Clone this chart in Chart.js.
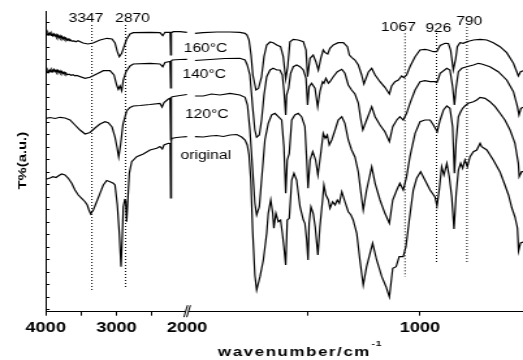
<!DOCTYPE html>
<html>
<head>
<meta charset="utf-8">
<script src="https://cdn.jsdelivr.net/npm/chart.js@4.4.1/dist/chart.umd.min.js"></script>
<style>
  html, body { margin: 0; padding: 0; background: #fff; overflow: hidden; }
  /* the figure is a horizontally stretched export, so the canvas is drawn narrow and widened */
  #wrap { width: 402px; height: 360px; transform: scaleX(1.301); transform-origin: 0 0; }
</style>
</head>
<body>
<div id="wrap"><canvas id="ftir" width="402" height="360"></canvas></div>
<script>
// broken wavenumber axis: 4000-2000 | 2042-539
const BREAK_HI = 2000, BREAK_LO = 2042, WN_MAX = 4000, WN_MIN = 539;
const HI_SCALE = 0.07071, LO_SCALE = 0.22341;
const STRETCH = 1.301;

const tickWn = [4000, 3500, 3000, 2500, 2000, 1500, 1000];
const tickText = ['4000', '', '3000', '', '2000', '', '1000'];
const yTicks = [2.5, 15, 27.5, 40, 52.5, 65, 77.5, 90, 102.5, 115, 127.5, 140, 152.5, 165, 177.5, 190, 202.5, 215, 227.5, 240, 252.5, 265, 277.5, 290];

// 160 °C
const wnHi160 = [3996,3982,3968,3954,3939,3925,3911,3897,3883,3868,3854,3840,3826,3812,3798,3783,3769,3755,3741,3727,3713,3699,3685,3670,3656,3628,3600,3572,3543,3472,3402,3331,3232,3133,3062,3020,2987,2959,2925,2893,2855,2808,2761,2525,2384,2345,2313,2266,2240,2232,2224,2195,2101,2002];
const tHi160 = [278.4,276.8,279.2,277.0,278.6,276.2,278.0,275.9,277.6,275.5,277.2,274.6,276.4,274.0,275.9,273.5,275.2,272.8,274.4,272.3,273.6,271.6,272.8,271.0,272.2,270.6,270.8,270.0,270.9,268.7,267.7,268.7,271.7,273.4,272.7,268.7,260,255,258.4,265,272.4,277.7,279,279.4,279,276,279.4,279.4,279.4,256.7,279,280,280,279.4];
const wnLo160 = [2007,1971,1909,1850,1806,1783,1774,1765,1756,1748,1734,1723,1709,1698,1686,1671,1657,1641,1624,1612,1601,1592,1582,1567,1545,1522,1510,1503,1492,1478,1466,1455,1444,1433,1424,1413,1403,1388,1366,1343,1325,1316,1306,1291,1276,1261,1251,1231,1216,1201,1179,1157,1137,1127,1112,1097,1082,1072,1060,1045,1022,1000,978,963,940,925,910,888,873,863,851,840,833,821,806,791,761,731,701,672,642,612,582,567,560,550,539];
const tLo160 = [278.4,279,279.7,279.7,279.4,278.4,276.7,271.7,256.7,236.7,221.7,223.2,235,255,266.7,269.7,269,266.7,265,255,232.7,245,270,272.4,271.7,270,261.7,235,253.4,256.7,250,241.7,253.4,261.7,259,257.7,263.4,266.7,269,269,265,256.7,254.4,251.7,246.7,236.7,227.7,239.7,243.4,236.7,230,224.4,217.7,225.7,230,231.7,235.7,234,236.7,245,255,261.7,262.4,261.7,260,260,266.2,268.4,268.2,261.7,241.7,253.4,265,269,268.4,270,271.7,272.4,271.7,269,265,259,248.4,240,235.7,240,241];

// 140 °C
const wnHi140 = [3996,3982,3968,3954,3939,3925,3911,3897,3883,3868,3854,3840,3826,3812,3798,3783,3769,3755,3741,3727,3713,3699,3670,3642,3614,3586,3562,3444,3374,3279,3185,3091,3034,2996,2973,2949,2925,2903,2864,2808,2761,2525,2384,2345,2313,2242,2232,2224,2210,2101,2002];
const tHi140 = [240.7,239.0,241.5,239.6,241.8,239.8,242.0,240.2,242.2,240.0,241.6,239.5,241.3,239.2,240.8,238.6,240.2,238.3,239.4,237.6,238.7,237.0,237.6,236.4,237.0,235.8,236.2,233.4,234.4,237.7,241,241,236.7,226.7,222.4,225.7,221,231.7,240,245.7,247.7,248.4,247.7,245,249.2,250.2,223.7,251,251.7,252.2,252.4];
const wnLo140 = [2007,1940,1873,1806,1783,1773,1761,1749,1739,1731,1719,1709,1698,1686,1671,1657,1641,1627,1616,1609,1601,1597,1588,1579,1567,1552,1537,1522,1510,1503,1496,1485,1470,1458,1448,1436,1430,1421,1410,1403,1388,1370,1350,1336,1321,1306,1291,1276,1266,1256,1239,1216,1201,1179,1157,1137,1122,1104,1090,1075,1060,1045,1022,1000,978,955,933,925,918,910,880,866,854,846,838,828,813,791,761,739,724,687,650,612,582,564,557,548,539];
const tLo140 = [251.2,252.2,253.2,253.4,251.7,246.7,236.7,205,181.7,174.4,176.7,191.7,216.7,235,241.7,243.4,241.7,241.7,236.7,221.7,196.7,216.7,223.4,238.4,245,246.7,245,241.7,233.4,206.7,225,228.4,223.4,205,220,230,228.4,233.4,228.4,230,235,240,242.4,238.4,226.7,221.7,217.7,208.7,193.7,181.7,191.7,205,195,186.7,180,170,185,191.7,195,191.7,198.4,208.4,221.7,230,231,230,230,229.2,232.7,238.4,243.4,241.7,225,206.7,225,240,243.4,245,246.7,248.4,247.7,245,240,231.7,220,205,196.7,203.4,204.4];

// 120 °C
const wnHi120 = [3996,3939,3868,3798,3727,3656,3586,3515,3444,3374,3303,3232,3161,3115,3062,3020,2992,2968,2942,2907,2855,2808,2761,2666,2525,2384,2355,2327,2266,2242,2232,2224,2210,2101,2002];
const tHi120 = [193.4,194.2,193.2,194.4,193.7,191.7,186.7,181.7,177.7,179.2,183.7,187.7,190,189,184.7,174.7,164.7,154.7,166.7,187.7,200.7,204.2,205.7,206.2,207.2,208.4,204.7,209.2,212.7,213.4,171.7,214.5,215,216.2,217.2];
const wnLo120 = [2007,1970,1933,1895,1850,1806,1783,1772,1761,1749,1739,1731,1719,1709,1694,1679,1664,1649,1634,1619,1609,1601,1594,1585,1574,1560,1545,1530,1515,1507,1501,1492,1480,1467,1457,1444,1433,1424,1415,1406,1395,1380,1366,1350,1336,1321,1306,1291,1276,1266,1254,1239,1216,1201,1179,1157,1137,1122,1104,1090,1075,1060,1045,1022,1000,978,955,940,923,910,895,880,866,854,846,838,828,818,809,799,784,761,746,731,709,687,664,642,620,597,575,560,556,545,539];
const tLo120 = [215.7,215.7,217.7,216.7,218.4,216.7,214.4,206.7,181.7,141.7,108.4,96.7,105,131.7,171.7,188.4,196.7,198.4,195,191.7,165,118.4,151.7,158.4,191.7,196.7,198.4,195,185,151.7,123.4,151.7,160,151.7,136.7,158.4,178.4,173.4,176.7,166.7,171.7,181.7,191.7,195,188.4,171.7,161.7,154.7,139.7,121.7,101.7,121.7,145,128.4,111.7,98.4,88.4,111.7,121.7,128.4,121.7,135,155,178.4,190,191.7,191.7,186.7,180,191.7,201.7,205.7,203.4,185,138.4,171.7,195,200,203.4,205.7,208.4,210,211.7,214.4,213.4,210,205,198.4,191.7,181.7,168.4,148.4,135,140,140];

// original
const wnHiOrig = [3996,3939,3897,3854,3812,3774,3727,3680,3632,3586,3539,3491,3444,3412,3388,3364,3327,3279,3232,3185,3137,3091,3044,3020,2987,2959,2935,2917,2903,2883,2869,2855,2836,2818,2784,2713,2620,2525,2430,2384,2351,2327,2266,2240,2232,2224,2148,2077,2002];
const tHiOrig = [132.4,133.7,135,134.2,136.2,137.7,136.7,133.4,128.4,121.7,116.7,113.4,110,106.7,101.7,97.7,101.7,110,118.4,126.7,131.2,130,128.4,126.7,106.7,78.4,45,75,105,111.7,110.7,90,115,138.4,150,155,157.7,161.7,163.4,165.2,162.7,166.7,168.4,168.2,113.7,173.2,174.2,174.7,175];
const wnLoOrig = [2007,1970,1940,1910,1880,1850,1820,1798,1783,1773,1765,1757,1749,1739,1731,1716,1701,1686,1679,1668,1659,1654,1645,1634,1624,1616,1609,1601,1594,1585,1574,1564,1552,1537,1522,1515,1507,1501,1496,1488,1478,1469,1457,1448,1436,1430,1421,1410,1403,1391,1380,1370,1361,1350,1336,1321,1309,1299,1283,1269,1254,1239,1212,1194,1171,1152,1137,1122,1107,1093,1075,1063,1048,1030,1015,997,978,955,933,924,914,903,893,880,869,858,848,838,828,818,809,799,788,776,761,746,731,724,701,672,642,620,604,589,575,564,559,550,539];
const tLoOrig = [175,174.7,175.7,176.2,175.2,176.7,177.2,174.7,171.7,166.7,156.7,131.7,81.7,36.7,21.7,35,51.7,78.4,98.4,111.7,98.4,83.4,98.4,90,91.7,78.4,65,46.7,91.7,93.4,131.7,138.4,131.7,105,91.7,88.4,71.7,51.7,88.4,105,98.4,85,56.7,85,111.7,126.7,116.7,111.7,103.4,110,106.7,111.7,108.4,120,110,100,96.7,91.7,78.4,51.7,26.7,45,68.4,51.7,35,25,14.7,43.4,45,55,55,65,91.7,121.7,133.4,140,131.7,121.7,114.7,105.7,121.7,145,136.7,148.4,135,115,82.7,118.4,141.7,148.4,143.4,151.7,145,155,160,161.7,168.4,165,161.7,151.7,139.7,126.7,116.7,103.7,94.7,83.7,60.7,68.7,69.7];

// dotted band markers
const markWn = [3347, 2870, 1067, 926, 790];
const markTop = [286.7, 286.7, 278.4, 278.7, 284.7];
const markBottom = [21.7, 23.4, 35, 48.4, 48.4];

const curveNames = ['160°C', '140°C', '120°C', 'original'];

function hiPos(wn) { return (WN_MAX - wn) * HI_SCALE; }
function loPos(wn) { return hiPos(BREAK_HI) + (BREAK_LO - wn) * LO_SCALE; }
function axisPos(wn) { return wn >= BREAK_HI ? hiPos(wn) : loPos(wn); }

const parts = [
  [wnHi160, tHi160, hiPos], [wnLo160, tLo160, loPos],
  [wnHi140, tHi140, hiPos], [wnLo140, tLo140, loPos],
  [wnHi120, tHi120, hiPos], [wnLo120, tLo120, loPos],
  [wnHiOrig, tHiOrig, hiPos], [wnLoOrig, tLoOrig, loPos]
];

const datasets = parts.map(([w, t, pos]) => ({
  data: w.map((v, i) => ({ x: pos(v), y: t[i] })),
  borderColor: '#000',
  borderWidth: 1.2,
  pointRadius: 0,
  tension: 0,
  fill: false
}));

markWn.forEach((w, i) => {
  datasets.push({
    data: [{ x: axisPos(w), y: markTop[i] }, { x: axisPos(w), y: markBottom[i] }],
    borderColor: '#000',
    borderWidth: 1,
    borderDash: [1, 2],
    pointRadius: 0
  });
});

// label placement (canvas px)
const markDx = [-4.5, 5.3, -5.1, 1.4, 1.8];
const markBase = [21.7, 21.7, 30.7, 32.3, 25];
const nameX = [158, 157, 158.9, 158.2];
const nameBase = [52.3, 78.3, 118.3, 159.3];

const decor = {
  id: 'decor',
  afterDraw(chart) {
    const { ctx, scales: { x, y } } = chart;
    ctx.save();
    ctx.strokeStyle = '#000';
    ctx.lineWidth = 1;

    // inward ticks on the left axis
    ctx.beginPath();
    y.ticks.forEach(t => {
      const py = Math.round(y.getPixelForValue(t.value)) + 0.5;
      ctx.moveTo(x.left, py);
      ctx.lineTo(x.left + 3, py);
    });
    ctx.stroke();

    // axis break mark
    const bx = x.getPixelForValue(hiPos(BREAK_HI));
    const by = x.top;
    ctx.fillStyle = '#fff';
    ctx.fillRect(bx - 1.2, by - 2, 2.4, 4);
    ctx.beginPath();
    ctx.moveTo(bx - 2.5, by + 5.5); ctx.lineTo(bx + 0.3, by - 6.5);
    ctx.moveTo(bx - 0.3, by + 5.5); ctx.lineTo(bx + 2.5, by - 6.5);
    ctx.stroke();

    ctx.fillStyle = '#000';
    ctx.textAlign = 'center';
    ctx.textBaseline = 'alphabetic';
    ctx.font = "12px 'Liberation Sans', Arial, sans-serif";
    markWn.forEach((w, i) => {
      ctx.fillText(String(w), x.getPixelForValue(axisPos(w)) + markDx[i], markBase[i]);
    });
    curveNames.forEach((n, i) => ctx.fillText(n, nameX[i], nameBase[i]));

    // x title with superscript
    ctx.textAlign = 'left';
    ctx.font = "bold 13px 'Liberation Sans', Arial, sans-serif";
    ctx.letterSpacing = '1.2px';
    const main = 'wavenumber/cm';
    const tx = 167.6;
    ctx.fillText(main, tx, 356);
    const w = ctx.measureText(main).width;
    ctx.font = "bold 8px 'Liberation Sans', Arial, sans-serif";
    ctx.letterSpacing = '0.5px';
    ctx.fillText('-1', tx + w + 0.5, 345.5);
    ctx.letterSpacing = '0px';

    // y title, stretched along its own direction like the other texts
    ctx.save();
    ctx.translate(17.7, (y.top + y.bottom) / 2 - 1);
    ctx.rotate(-Math.PI / 2);
    ctx.scale(1.35, 1 / STRETCH);
    ctx.textAlign = 'center';
    ctx.textBaseline = 'middle';
    ctx.font = "bold 11px 'Liberation Sans', Arial, sans-serif";
    ctx.fillText('T%(a.u.)', 0, 0);
    ctx.restore();

    ctx.restore();
  }
};

Chart.defaults.font.family = "'Liberation Sans', Arial, sans-serif";
Chart.defaults.color = '#000';

new Chart(document.getElementById('ftir'), {
  type: 'line',
  data: { datasets },
  plugins: [decor],
  options: {
    responsive: false,
    animation: false,
    events: [],
    parsing: false,
    layout: { padding: { top: 11.7, right: 0, bottom: 0, left: 0 } },
    plugins: { legend: { display: false }, tooltip: { enabled: false } },
    scales: {
      x: {
        type: 'linear',
        min: 0,
        max: loPos(WN_MIN),
        afterBuildTicks: s => { s.ticks = tickWn.map(w => ({ value: axisPos(w) })); },
        afterFit: s => { s.height = 48.3; },
        ticks: {
          autoSkip: false,
          maxRotation: 0,
          padding: 3.6,
          color: '#000',
          font: { size: 14, weight: 'bold' },
          callback: (v, i) => tickText[i]
        },
        grid: {
          drawOnChartArea: false,
          drawTicks: true,
          tickLength: 4,
          tickWidth: 1,
          tickColor: c => (c.index === 4 ? 'rgba(0,0,0,0)' : '#000')
        },
        border: { display: true, color: '#000', width: 1 }
      },
      y: {
        type: 'linear',
        min: 0,
        max: 300,
        afterBuildTicks: s => { s.ticks = yTicks.map(v => ({ value: v })); },
        afterFit: s => { s.width = 35.1; },
        ticks: { display: false },
        grid: { display: false },
        border: { display: true, color: '#000', width: 1 }
      }
    }
  }
});
</script>
</body>
</html>
